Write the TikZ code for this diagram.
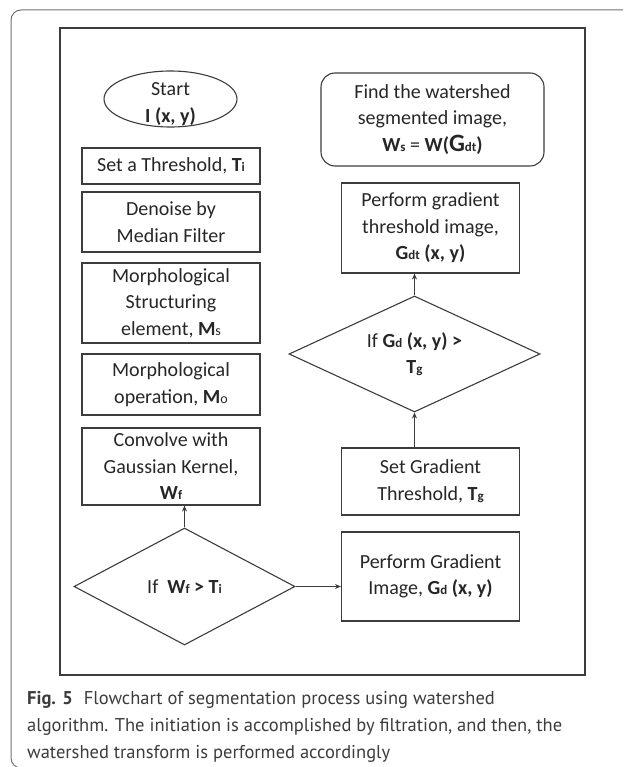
\documentclass[tikz,border=0pt]{standalone}
\usepackage{fontspec}
\setmainfont{Carlito}
\newfontfamily\capfont{PT Sans}
\usetikzlibrary{shapes.geometric, arrows.meta, positioning}
\definecolor{framegray}{HTML}{707070}
\definecolor{linegray}{HTML}{3C3C3C}
\definecolor{inkgray}{HTML}{262626}
\newcommand{\bsub}[2]{\textbf{#1}{\fontsize{13}{13}\selectfont\textbf{#2}}}
\newcommand{\rsub}[2]{\textbf{#1}{\fontsize{14}{14}\selectfont #2}}
\tikzset{
	flowtext/.style={text=inkgray, align=center, font=\fontsize{20}{26.5}\selectfont}
}
\tikzset{
	stepbox/.style={flowtext, draw=linegray, line width=1.1pt, rectangle, inner sep=0pt, minimum width=178pt},
	roundbox/.style={stepbox, rounded corners=14pt, minimum width=223pt, minimum height=93pt},
	startshape/.style={draw=linegray, line width=1.1pt, ellipse, inner sep=0pt, minimum width=133pt, minimum height=56pt},
	decision/.style={flowtext, draw=linegray, line width=1.1pt, diamond, aspect=2, inner sep=0pt},
	flowarrow/.style={draw=linegray, line width=1pt, -{Stealth[length=6pt, width=5pt]}},
	captext/.style={anchor=base west, inner sep=0pt, text=inkgray!90, font=\capfont\fontsize{18.5}{18.5}\selectfont}
}
\begin{document}
\begin{tikzpicture}[x=1pt, y=-1pt]
	\useasboundingbox (0,0) rectangle (623,767);
	\clip (0,0) rectangle (623,767);

	\draw[framegray, line width=1pt, rounded corners=10pt] (700,768) -- (11,768) -- (11,10) -- (700,10);
	\draw[linegray, line width=1.2pt] (60,28) rectangle (585,675);

	\begin{scope}
		\node[startshape] (start) at (170.5,99) {};
		\node[flowtext, inner sep=0pt] (starttext) at (170.5,104) {Start\\\textbf{I (x, y)}};

		\node[stepbox, minimum height=36pt] (thr) at (171,166) {Set a Threshold, \bsub{T}{i}};
		\node[stepbox, minimum height=60pt] (denoise) at (171,222) {Denoise by\\Median Filter};
		\node[stepbox, minimum height=80pt] (morphs) at (171,303) {Morphological\\Structuring\\element, \rsub{M}{s}};
		\node[stepbox, minimum height=61pt] (morpho) at (171,384.5) {Morphological\\operation, \rsub{M}{o}};
		\node[stepbox, minimum height=77pt] (conv) at (171,466.5) {Convolve with\\Gaussian Kernel,\\\bsub{W}{f}};
		\node[decision, minimum width=221pt, minimum height=117pt] (dleft) at (184.5,586.5) {If \ \bsub{W}{f} \textbf{>} \bsub{T}{i}};
	\end{scope}

	\begin{scope}
		\node[roundbox] (findws) at (432.5,119.5) {Find the watershed\\segmented image,\\\bsub{W}{s} = \textbf{W(}{\fontsize{25}{25}\selectfont\textbf{G}}{\fontsize{13}{13}\selectfont\textbf{dt}}\textbf{)}};
		\node[stepbox, minimum height=90pt] (pgt) at (430.5,228) {Perform gradient\\threshold image,\\\bsub{G}{dt} \textbf{(x, y)}};
		\node[decision, minimum width=251pt, minimum height=116pt] (dright) at (414.5,354) {If \bsub{G}{d} \textbf{(x, y) >}\\\bsub{T}{g}};
		\node[stepbox, minimum height=67pt] (sgt) at (430.5,481.5) {Set Gradient\\Threshold, \bsub{T}{g}};
		\node[stepbox, minimum height=89pt] (pgi) at (430.5,576.5) {Perform Gradient\\Image, \bsub{G}{d} \textbf{(x, y)}};
	\end{scope}

	\draw[flowarrow] (dleft.north) -- (dleft.north |- conv.south);
	\draw[flowarrow] (dleft.east) -- (dleft.east -| pgi.west);
	\draw[flowarrow] (dright.south |- sgt.north) -- (dright.south);
	\draw[flowarrow] (dright.north) -- (dright.north |- pgt.south);

	\node[captext] (cap1) at (27,704) {\textbf{Fig. 5}\hspace{0.6em}Flowchart of segmentation process using watershed};
	\node[captext] (cap2) at (27,731) {algorithm. The initiation is accomplished by filtration, and then, the};
	\node[captext] (cap3) at (27,758) {watershed transform is performed accordingly};
\end{tikzpicture}
\end{document}
